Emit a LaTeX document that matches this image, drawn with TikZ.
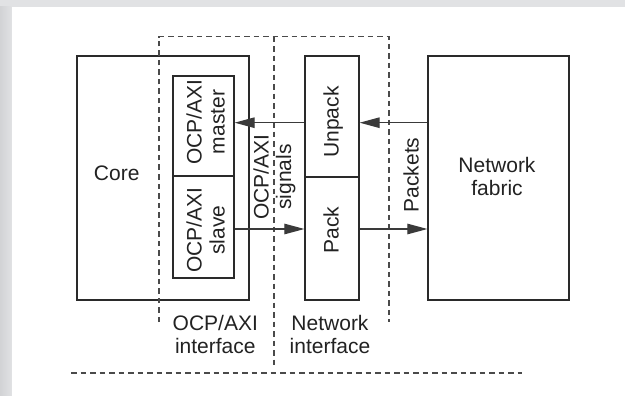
\documentclass[tikz,border=0pt]{standalone}
\usepackage{fontspec}
\setmainfont{Liberation Sans}
\usetikzlibrary{arrows.meta}
\definecolor{linec}{HTML}{2A2A2A}
\definecolor{dashc}{HTML}{4A4A4A}
\definecolor{arrc}{HTML}{3A3A3A}
\definecolor{txt}{HTML}{222222}
\definecolor{bgc}{HTML}{E1E2E4}
\definecolor{bgd}{HTML}{D2D3D5}
\begin{document}
\begin{tikzpicture}[x=1pt,y=-1pt,
  box/.style={draw=linec, line width=1.3pt, inner sep=0pt, rectangle},
  lbl/.style={font=\fontsize{21}{23}\selectfont, text=txt, inner sep=0pt},
  rlbl/.style={lbl, rotate=90, anchor=base},
  hlbl/.style={lbl, anchor=base},
  dashline/.style={draw=dashc, line width=1.1pt, dash pattern=on 5.5pt off 4pt},
  arr/.style={draw=arrc, line width=1.2pt, -{Triangle[length=20pt,width=10.5pt]}}]
\useasboundingbox (0,0) rectangle (625,396);
% background
\fill[bgc] (0,0) rectangle (625,396);
\shade[left color=bgd, right color=bgc] (0,7) rectangle (12,396);
\fill[white] (12,7) rectangle (625,396);
% boxes
\node[box, minimum width=172pt, minimum height=244pt] (core) at (163,178) {};
\node[box, minimum width=61pt, minimum height=100pt] (master) at (203.5,126) {};
\node[box, minimum width=61pt, minimum height=102pt] (slave) at (203.5,227) {};
\node[box, minimum width=54pt, minimum height=121pt] (unpack) at (332,116.5) {};
\node[box, minimum width=54pt, minimum height=123pt] (pack) at (332,238.5) {};
\node[box, minimum width=141pt, minimum height=244pt] (fabric) at (498.5,178) {};
% dashed regions
\draw[dashline] (159,322) -- (159,36.7) -- (389,36.7) -- (389,322);
\draw[dashline] (274,36.7) -- (274,367);
\draw[dashline] (71,373) -- (522,373);
% arrows
\coordinate (yup) at (0,122.7);
\coordinate (ylo) at (0,229);
\draw[arr] (unpack.west |- yup) -- (master.east |- yup);
\draw[arr] (fabric.west |- yup) -- (unpack.east |- yup);
\draw[arr] (slave.east |- ylo) -- (pack.west |- ylo);
\draw[arr] (pack.east |- ylo) -- (fabric.west |- ylo);
% horizontal labels
\node[hlbl] (coret) at (116.7,180.5) {Core};
\node[hlbl] (nf1) at (497,172.7) {Network};
\node[hlbl] (nf2) at (497,195.5) {fabric};
\node[hlbl] (oi1) at (215.3,330) {OCP/AXI};
\node[hlbl] (oi2) at (215.3,353) {interface};
\node[hlbl] (ni1) at (330,330) {Network};
\node[hlbl] (ni2) at (330,353) {interface};
% rotated labels
\node[rlbl] (m1) at (201.5,122) {OCP/AXI};
\node[rlbl] (m2) at (224.5,122) {master};
\node[rlbl] (s1) at (201.5,230) {OCP/AXI};
\node[rlbl] (s2) at (224.5,230) {slave};
\node[rlbl] (sg1) at (268.5,177) {OCP/AXI};
\node[rlbl] (sg2) at (291,177) {signals};
\node[rlbl] (up) at (338.5,122) {Unpack};
\node[rlbl] (pk) at (338.5,230) {Pack};
\node[rlbl] (pkt) at (418.5,175) {Packets};
\end{tikzpicture}
\end{document}
